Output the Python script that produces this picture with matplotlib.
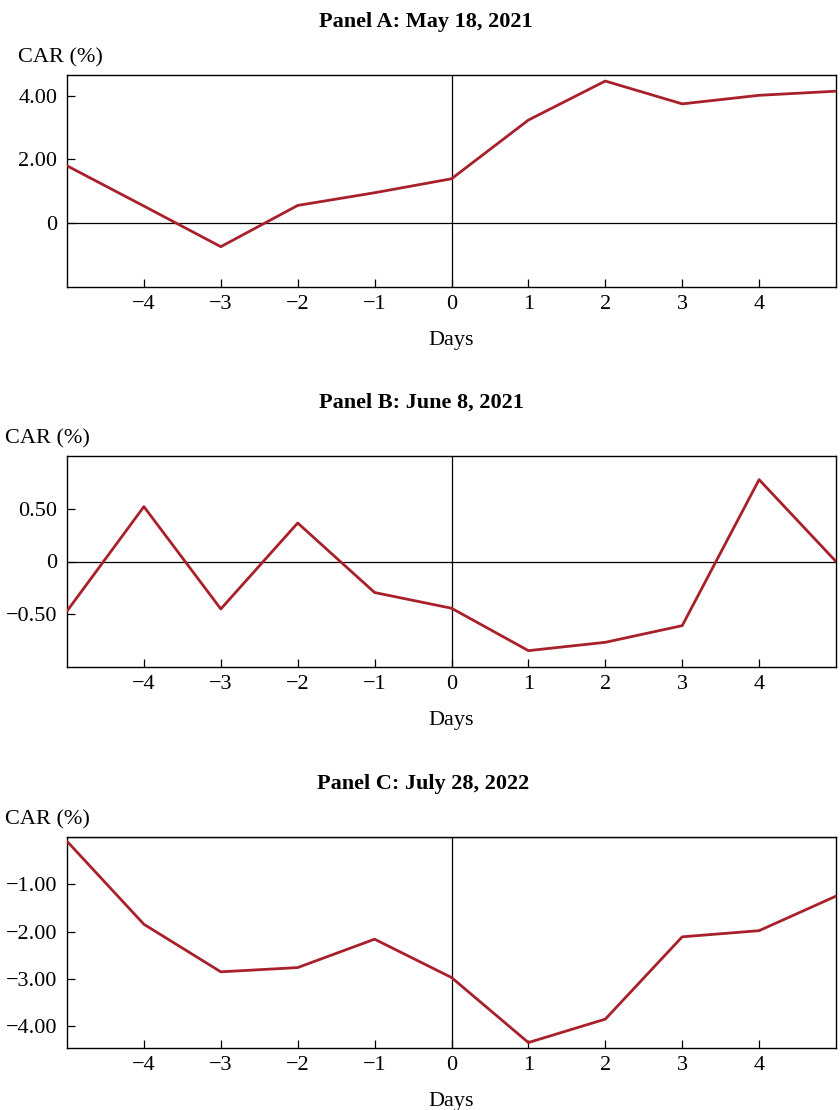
import matplotlib
matplotlib.use("Agg")
import matplotlib.pyplot as plt

plt.rcParams['font.family'] = ['Liberation Serif', 'DejaVu Serif']

days = [-5, -4, -3, -2, -1, 0, 1, 2, 3, 4, 5]
xticks = [-4, -3, -2, -1, 0, 1, 2, 3, 4]
xtick_labels = ['\u22124', '\u22123', '\u22122', '\u22121', '0', '1', '2', '3', '4']

titles = ["Panel A: May 18, 2021", "Panel B: June 8, 2021", "Panel C: July 28, 2022"]

car_a = [1.80, 0.53, -0.75, 0.55, 0.95, 1.39, 3.24, 4.47, 3.75, 4.02, 4.15]
car_b = [-0.47, 0.52, -0.45, 0.365, -0.294, -0.443, -0.845, -0.766, -0.608, 0.776, 0.0]
car_c = [-0.09, -1.845, -2.85, -2.76, -2.16, -2.97, -4.345, -3.85, -2.11, -1.98, -1.25]

yticks_a = [0, 2, 4]
ylabels_a = ['0', '2.00', '4.00']
yticks_b = [-0.5, 0, 0.5]
ylabels_b = ['\u22120.50', '0', '0.50']
yticks_c = [-4, -3, -2, -1]
ylabels_c = ['\u22124.00', '\u22123.00', '\u22122.00', '\u22121.00']

ylims = [(-2.02, 4.66), (-1.0, 1.0), (-4.46, 0.0)]

series = [car_a, car_b, car_c]
yticks_all = [yticks_a, yticks_b, yticks_c]
ylabels_all = [ylabels_a, ylabels_b, ylabels_c]

W, H = 840, 1110
fig = plt.figure(figsize=(W / 100, H / 100), dpi=100)

# axes boxes in pixels: (left, top, right, bottom)
boxes_px = [(67, 75, 836, 287), (67, 456, 836, 667), (67, 837, 836, 1048)]
car_x_px = [18, 5, 5]
title_cx_px = [426, 421, 423]

line_color = '#A8202A'
fs = 16

for i in range(3):
    l, t, r, b = boxes_px[i]
    ax = fig.add_axes([l / W, 1 - b / H, (r - l) / W, (b - t) / H])
    ax.plot(days, series[i], color=line_color, lw=2.0, zorder=3)
    ax.axhline(0, color='black', lw=0.9, zorder=2)
    ax.axvline(0, color='black', lw=0.9, zorder=2)
    ax.set_xlim(-5, 5)
    ax.set_ylim(*ylims[i])
    ax.set_xticks(xticks)
    ax.set_xticklabels(xtick_labels, fontsize=fs)
    ax.set_yticks(yticks_all[i])
    ax.set_yticklabels(ylabels_all[i], fontsize=fs)
    ax.tick_params(direction='in', length=5.5, width=0.9)
    ax.tick_params(axis='x', pad=6)
    ax.tick_params(axis='y', pad=7)
    for s in ax.spines.values():
        s.set_linewidth(1.0)
    ax.set_xlabel('Days', fontsize=fs, labelpad=12)
    fig.text(title_cx_px[i] / W, 1 - (t - 48) / H, titles[i], fontsize=fs,
             fontweight='bold', ha='center', va='baseline')
    fig.text(car_x_px[i] / W, 1 - (t - 13) / H, 'CAR (%)', fontsize=fs,
             ha='left', va='baseline')

fig.savefig('out.png', dpi=100)
